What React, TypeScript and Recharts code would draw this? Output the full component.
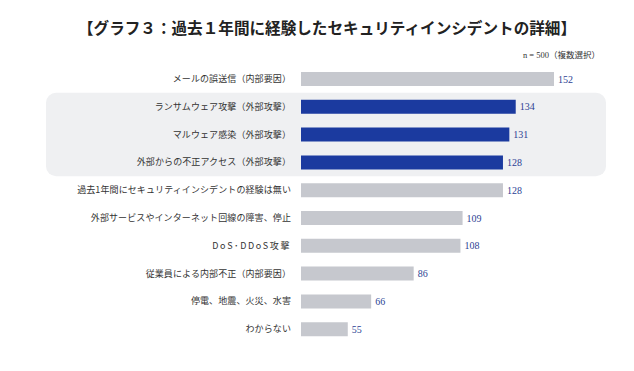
import { BarChart, Bar, XAxis, YAxis, Cell, LabelList, ReferenceArea } from 'recharts';

document.body.style.margin = '0';

const categories = [
  'メールの誤送信（内部要因）',
  'ランサムウェア攻撃（外部攻撃）',
  'マルウェア感染（外部攻撃）',
  '外部からの不正アクセス（外部攻撃）',
  '過去1年間にセキュリティインシデントの経験は無い',
  '外部サービスやインターネット回線の障害、停止',
  'DoS･DDoS攻撃',
  '従業員による内部不正（内部要因）',
  '停電、地震、火災、水害',
  'わからない',
];
const counts = [152, 134, 131, 128, 128, 109, 108, 86, 66, 55];
const highlighted = [false, true, true, true, false, false, false, false, false, false];

const title = '【グラフ３：過去１年間に経験したセキュリティインシデントの詳細】';
const note = 'n = 500（複数選択）';

const data = categories.map((name, i) => ({ name, value: counts[i], hl: highlighted[i] }));
const hlNames = categories.filter((_, i) => highlighted[i]);

const sans = '"Noto Sans CJK JP", "Noto Sans", sans-serif';
const serif = '"Liberation Serif", "Noto Sans CJK JP", serif';

function HighlightBox(props: any) {
  const { x, y, width, height } = props;
  return (
    <rect
      x={x - 255}
      y={y}
      width={width + 290}
      height={height}
      rx={10}
      ry={10}
      fill="#eff0f2"
    />
  );
}

// latin-only labels get a little extra tracking, like the original
function CategoryTick(props: any) {
  const { x, y, payload } = props;
  const latin = /[A-Za-z]/.test(payload.value);
  return (
    <text
      x={x}
      y={y}
      dy="0.355em"
      textAnchor="end"
      fontSize={9}
      fill="#333"
      fontFamily={sans}
      letterSpacing={latin ? 1.6 : 0.1}
    >
      {payload.value}
    </text>
  );
}

export default function App() {
  return (
    <div style={{ position: 'relative', width: 634, height: 371, background: '#fff' }}>
      <div
        style={{
          position: 'absolute',
          left: 0,
          width: 654,
          top: 16,
          textAlign: 'center',
          fontFamily: sans,
          fontWeight: 700,
          fontSize: 15.6,
          color: '#222',
          lineHeight: '22px',
        }}
      >
        {title}
      </div>
      <div
        style={{
          position: 'absolute',
          right: 34,
          top: 48,
          fontFamily: serif,
          fontSize: 8.5,
          color: '#333',
        }}
      >
        {note}
      </div>
      <BarChart
        width={634}
        height={371}
        data={data}
        layout="vertical"
        margin={{ top: 65, right: 63, bottom: 28, left: 40 }}
        barSize={14}
      >
        <ReferenceArea
          y1={hlNames[0]}
          y2={hlNames[hlNames.length - 1]}
          shape={<HighlightBox />}
          ifOverflow="visible"
        />
        <XAxis type="number" domain={[33, 160]} hide allowDataOverflow />
        <YAxis
          type="category"
          dataKey="name"
          width={261}
          axisLine={false}
          tickLine={false}
          tickSize={0}
          tickMargin={10}
          interval={0}
          tick={<CategoryTick />}
        />
        <Bar dataKey="value" isAnimationActive={false}>
          {data.map((d) => (
            <Cell key={d.name} fill={d.hl ? '#1b3a9f' : '#c6c8ce'} />
          ))}
          <LabelList
            dataKey="value"
            position="right"
            offset={4}
            fill="#2d3f94"
            fontSize={10}
            fontFamily={serif}
          />
        </Bar>
      </BarChart>
    </div>
  );
}
